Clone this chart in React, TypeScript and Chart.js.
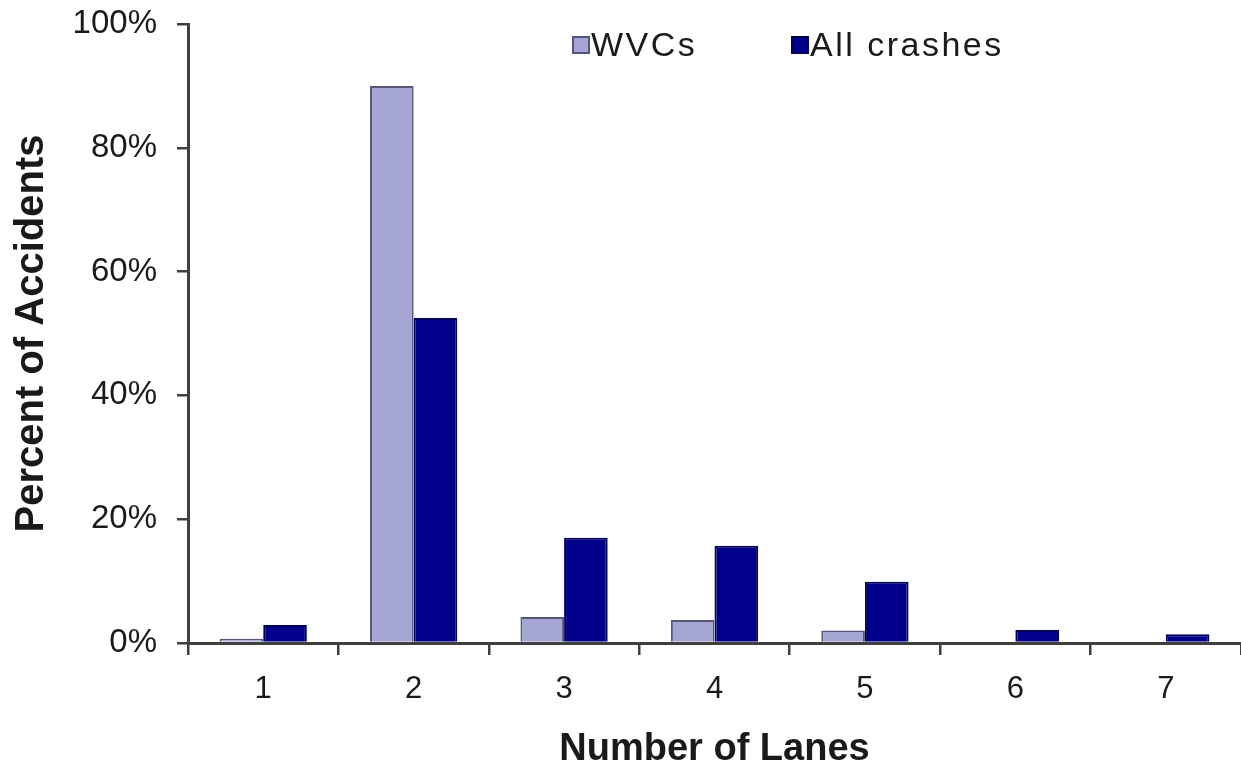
import React, { useEffect, useRef } from "react";
import { Chart, registerables } from "chart.js";

Chart.register(...registerables);

const categories = ["1", "2", "3", "4", "5", "6", "7"];
const wvcValues = [0.7, 90, 4.2, 3.7, 2.0, 0, 0];
const allCrashValues = [2.9, 52.5, 17, 15.7, 9.9, 2.1, 1.4];
const seriesLabels = ["WVCs", "All crashes"];
const yTickStep = 20;
const xTitle = "Number of Lanes";
const yTitle = "Percent of Accidents";

const FONT = "'Liberation Sans', Arial, sans-serif";
const WVC_FILL = "#a6a6d4";
const WVC_BORDER = "#56567c";
const ALL_FILL = "#00008a";
const ALL_BORDER = "#00005a";
const AXIS = "#3f3f3f";
const TEXT = "#1a1a1a";

const insideLegend = {
  id: "insideLegend",
  afterDraw(chart: any) {
    const ctx = chart.ctx as CanvasRenderingContext2D;
    const items = [
      { label: seriesLabels[0], fill: WVC_FILL, stroke: WVC_BORDER, x: 573 },
      { label: seriesLabels[1], fill: ALL_FILL, stroke: ALL_BORDER, x: 792 },
    ];
    const cy = 46;
    ctx.save();
    for (const it of items) {
      ctx.fillStyle = it.fill;
      ctx.strokeStyle = it.stroke;
      ctx.lineWidth = 2;
      ctx.fillRect(it.x, cy - 9, 16, 16);
      ctx.strokeRect(it.x, cy - 9, 16, 16);
      ctx.fillStyle = TEXT;
      ctx.font = `34px ${FONT}`;
      (ctx as any).letterSpacing = "2.5px";
      ctx.textBaseline = "middle";
      ctx.textAlign = "left";
      ctx.fillText(it.label, it.x + 18, cy + 1);
    }
    ctx.restore();
  },
};

export default function App() {
  const ref = useRef<HTMLCanvasElement | null>(null);

  useEffect(() => {
    if (!ref.current) return;
    const chart = new Chart(ref.current, {
      type: "bar",
      data: {
        labels: categories,
        datasets: [
          {
            label: seriesLabels[0],
            data: wvcValues,
            backgroundColor: WVC_FILL,
            borderColor: WVC_BORDER,
            borderWidth: 2,
            categoryPercentage: 0.58,
            barPercentage: 1,
          },
          {
            label: seriesLabels[1],
            data: allCrashValues,
            backgroundColor: ALL_FILL,
            borderColor: ALL_BORDER,
            borderWidth: 2,
            categoryPercentage: 0.58,
            barPercentage: 1,
          },
        ],
      },
      options: {
        responsive: false,
        animation: false,
        layout: { padding: { top: 24, left: 0, right: 0, bottom: 0 } },
        plugins: {
          legend: { display: false },
          tooltip: { enabled: false },
        },
        scales: {
          x: {
            grid: {
              drawOnChartArea: false,
              drawTicks: true,
              tickLength: 12,
              color: AXIS,
              lineWidth: 2.5,
              offset: true,
            },
            border: { display: true, color: AXIS, width: 3 },
            ticks: {
              font: { family: FONT, size: 31 },
              color: TEXT,
              padding: 16,
              maxRotation: 0,
            },
            title: {
              display: true,
              text: xTitle,
              font: { family: FONT, size: 38, weight: "bold" },
              color: TEXT,
              padding: { top: 0, bottom: 0 },
            },
            afterFit: (s: any) => {
              s.height = 129;
              s.paddingLeft = 0;
              s.paddingRight = 0;
            },
          },
          y: {
            min: 0,
            max: 100,
            grid: {
              drawOnChartArea: false,
              drawTicks: true,
              tickLength: 11,
              color: AXIS,
              lineWidth: 2.5,
            },
            border: { display: true, color: AXIS, width: 3 },
            ticks: {
              stepSize: yTickStep,
              callback: (v: any) => `${v}%`,
              font: { family: FONT, size: 33 },
              color: TEXT,
              padding: 20,
            },
            title: {
              display: true,
              text: yTitle,
              font: { family: FONT, size: 40, weight: "bold" },
              color: TEXT,
              padding: { top: 8, bottom: 0 },
            },
            afterFit: (s: any) => {
              s.width = 188;
              s.paddingTop = 0;
              s.paddingBottom = 0;
            },
          },
        },
      },
      plugins: [insideLegend],
    });
    return () => chart.destroy();
  }, []);

  return (
    <div style={{ position: "fixed", left: 0, top: 0, width: 1241, height: 772, background: "#fff" }}>
      <canvas ref={ref} width={1241} height={772} style={{ display: "block" }} />
    </div>
  );
}
